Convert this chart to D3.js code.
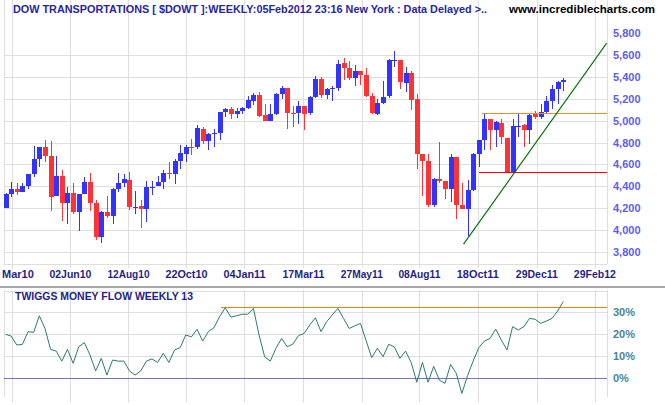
<!DOCTYPE html>
<html><head><meta charset="utf-8">
<script src="https://cdn.jsdelivr.net/npm/d3@7"></script>
<style>body{margin:0;background:#fff}svg{display:block}</style>
</head><body><svg id="c" width="665" height="405"></svg>
<script>
// ---- data (weekly candles, DOW Transportations) ----
const openP  = [4198,4326,4372,4348,4400,4509,4647,4756,4677,4311,4491,4247,4335,4165,4326,4436,4247,3936,4165,4128,
                4372,4427,4454,4205,4217,4192,4390,4400,4436,4518,4509,4628,4695,4756,4756,4921,4811,4875,4885,5080,
                5104,5058,5086,5113,5177,5232,5049,4997,5058,5241,5296,5068,5068,5132,5068,5214,5379,5232,5290,5296,
                5525,5479,5388,5452,5415,5223,5058,5159,5223,5546,5552,5342,5434,5196,4692,4631,4229,4464,4445,4375,
                4668,4229,4192,4363,4692,4820,5013,4915,4976,4839,4531,4949,4958,4915,5058,5031,5076,5177,5287,5351];
const highP  = [4335,4442,4427,4427,4509,4766,4756,4820,4811,4674,4546,4390,4427,4326,4482,4518,4271,4171,4308,4381,
                4518,4509,4528,4354,4271,4445,4445,4491,4546,4619,4647,4775,4775,4830,4958,4939,4885,4921,5077,5119,
                5122,5113,5128,5223,5250,5260,5150,5150,5250,5315,5296,5132,5177,5132,5223,5406,5397,5296,5315,5552,
                5571,5543,5507,5452,5479,5250,5196,5360,5562,5635,5552,5488,5452,5241,4692,4692,4473,4802,4445,4692,
                4668,4433,4454,4702,4820,5068,5013,4994,5013,4839,5013,5068,4967,5058,5086,5150,5229,5324,5360,5388];
const lowP   = [4198,4302,4320,4348,4372,4485,4573,4622,4174,4311,4082,4055,4146,3991,4326,4174,3909,3880,4110,4055,
                4348,4393,4183,4146,4018,4073,4320,4400,4372,4464,4418,4555,4619,4683,4738,4784,4729,4756,4823,5034,
                5016,5025,5058,5104,5141,5034,4997,4997,5049,5196,4921,4942,4967,4912,5049,5205,5205,5196,5177,5275,
                5369,5369,5315,5324,5214,5058,5049,5150,5205,5488,5287,5260,5095,4555,4311,4210,4210,4433,4287,4256,
                4098,4192,3945,4360,4580,4732,4732,4759,4787,4531,4531,4854,4759,4787,5013,5013,5068,5104,5150,5269];
const closeP = [4326,4372,4348,4400,4509,4647,4756,4677,4302,4491,4247,4335,4165,4326,4436,4247,3936,4165,4128,4372,
                4427,4464,4210,4210,4192,4390,4396,4436,4518,4509,4628,4701,4756,4747,4930,4811,4875,4885,5077,5104,
                5058,5086,5113,5186,5232,5043,4997,5058,5241,5296,5068,5064,5132,5058,5214,5379,5232,5287,5296,5516,
                5479,5388,5452,5415,5223,5068,5159,5214,5552,5552,5351,5434,5186,4692,4631,4229,4464,4445,4375,4668,
                4229,4192,4363,4692,4820,5013,4915,4985,4848,4531,4949,4955,4915,5055,5031,5076,5177,5287,5351,5369];
// Twiggs Money Flow (weekly, 13), percent
const tmf = [19.9,19.1,15.0,15.3,21.1,20.8,28.4,22.6,13.0,12.2,7.6,13.0,6.6,14.2,16.1,10.4,3.1,8.9,1.2,8.1,
             7.6,7.6,3.1,1.2,3.1,7.6,8.6,7.0,11.2,7.0,12.7,13.8,19.6,18.7,22.2,16.8,21.1,22.9,28.0,32.1,
             27.8,28.4,29.1,29.1,31.8,19.6,9.6,7.6,13.5,18.0,14.2,15.4,19.3,20.3,24.2,27.5,21.1,25.7,28.8,31.8,
             27.2,22.6,23.8,24.9,17.0,9.2,13.5,9.6,15.3,14.2,8.9,12.2,7.0,-2.1,7.0,-2.1,5.2,-1.1,-2.6,6.1,
             2.0,-7.2,0.9,7.6,13.8,16.8,18.0,22.3,17.3,12.7,23.4,21.9,23.4,27.2,26.8,24.9,26.0,27.2,30.6,34.9];
const priceTicks = [3800,4000,4200,4400,4600,4800,5000,5200,5400,5600,5800];
const priceGrid  = [3800,4000,4200,4400,4600,4800,5000,5200,5400,5600];
const pctTicks   = [0,10,20,30];
const pctGrid    = [10,20,30,40];
const dateLabels = ["Mar10","02Jun10","12Aug10","22Oct10","04Jan11","17Mar11","27May11","08Aug11","18Oct11","29Dec11","29Feb12"];
const dateIdx    = [1.24,11.53,21.83,32.12,42.41,52.88,63.24,73.46,83.82,94.3,104.6];
const supportLevel = 4535, resistLevel = 5070, resistStart = 84.6, supportStart = 84.1;
const trendFrom = [81.3,3870], trendTo = [106.7,5710];
const tmfPeakLevel = 32.3, tmfPeakStart = 38.3;
const titleText = "DOW TRANSPORTATIONS [ $DOWT ]:WEEKLY:05Feb2012 23:16 New York  : Data Delayed >..";
const siteText = "www.incrediblecharts.com";
const lowerTitle = "TWIGGS MONEY FLOW WEEKLY 13";

// ---- scales ----
const N = closeP.length;
const x  = d3.scaleLinear().domain([0, N-1]).range([5.5, 563.3]);
const yP = d3.scaleLinear().domain([3800, 5800]).range([251.8, 33.3]);
const yT = d3.scaleLinear().domain([0, 30]).range([377.7, 312.3]);
const L = 4, R = 607, PB = 264;
const px = v => Math.round(v) + 0.5;

const svg = d3.select("#c");
svg.append("rect").attr("width",665).attr("height",405).attr("fill","#fff");
const grid = "#dedede";

// price panel grid
const g1 = svg.append("g").attr("shape-rendering","crispEdges");
g1.selectAll(".hg").data(priceGrid).join("line")
  .attr("x1",L).attr("x2",R).attr("y1",d=>px(yP(d))).attr("y2",d=>px(yP(d)))
  .attr("stroke",grid);
g1.selectAll(".vg").data(dateIdx).join("line")
  .attr("x1",d=>px(x(d))).attr("x2",d=>px(x(d))).attr("y1",0).attr("y2",268)
  .attr("stroke",grid);
g1.append("line").attr("x1",L+0.5).attr("x2",L+0.5).attr("y1",0).attr("y2",PB).attr("stroke",grid);
g1.append("line").attr("x1",R+0.5).attr("x2",R+0.5).attr("y1",0).attr("y2",PB).attr("stroke",grid);
g1.append("line").attr("x1",L).attr("x2",R).attr("y1",PB+0.5).attr("y2",PB+0.5).attr("stroke",grid);

// header
svg.append("text").attr("x",13).attr("y",13).text(titleText)
  .attr("font-family","Liberation Sans, Arial, sans-serif").attr("font-weight","bold").attr("font-size","11.5px")
  .attr("fill","#2626a6").attr("textLength",474).attr("lengthAdjust","spacingAndGlyphs");
svg.append("text").attr("x",509).attr("y",13).text(siteText)
  .attr("font-family","Liberation Sans, Arial, sans-serif").attr("font-weight","bold").attr("font-size","11px")
  .attr("fill","#000").attr("textLength",146).attr("lengthAdjust","spacingAndGlyphs");

// price axis labels
svg.append("g").selectAll("text").data(priceTicks).join("text")
  .attr("x",613).attr("y",d=>yP(d)+4).text(d3.format(","))
  .attr("font-family","Liberation Sans, Arial, sans-serif").attr("font-weight","bold").attr("font-size","11px")
  .attr("fill","#5c5cf2");

// date labels
svg.append("g").selectAll("text").data(dateLabels).join("text")
  .attr("x",(d,i)=>x(dateIdx[i])).attr("y",278).attr("text-anchor","middle").text(d=>d)
  .attr("font-family","Liberation Sans, Arial, sans-serif").attr("font-weight","bold").attr("font-size","11px")
  .attr("fill","#1f1f8a").attr("textLength",42).attr("lengthAdjust","spacingAndGlyphs")
  .filter((d,i)=>i===0).attr("textLength",null).attr("x",2).attr("text-anchor","start");

// candles
const blue = "#3333ff", red = "#ff3333";
const cg = svg.append("g").attr("shape-rendering","crispEdges");
const idx = d3.range(N);
const col = i => closeP[i] >= openP[i] ? blue : red;
cg.selectAll(".w").data(idx).join("line")
  .attr("x1",i=>px(x(i))).attr("x2",i=>px(x(i)))
  .attr("y1",i=>yP(highP[i])).attr("y2",i=>yP(lowP[i])).attr("stroke",col).attr("stroke-width",1);
cg.selectAll(".b").data(idx).join("rect")
  .attr("x",i=>Math.round(x(i))-2).attr("width",5)
  .attr("y",i=>yP(Math.max(openP[i],closeP[i])))
  .attr("height",i=>Math.max(1, yP(Math.min(openP[i],closeP[i])) - yP(Math.max(openP[i],closeP[i]))))
  .attr("fill",col);

// support / resistance / trend
const lg = svg.append("g").attr("shape-rendering","crispEdges");
lg.append("line").attr("x1",x(supportStart)).attr("x2",R).attr("y1",px(yP(supportLevel))).attr("y2",px(yP(supportLevel)))
  .attr("stroke","#ff0000").attr("stroke-width",1);
lg.append("line").attr("x1",x(resistStart)).attr("x2",R).attr("y1",px(yP(resistLevel))).attr("y2",px(yP(resistLevel)))
  .attr("stroke","#f5891c").attr("stroke-width",1);
svg.append("line").attr("x1",x(trendFrom[0])).attr("y1",yP(trendFrom[1]))
  .attr("x2",x(trendTo[0])).attr("y2",yP(trendTo[1]))
  .attr("stroke","#007000").attr("stroke-width",1.1);

// separator
svg.append("line").attr("x1",0).attr("x2",665).attr("y1",287).attr("y2",287).attr("stroke","#a8a8a8").attr("stroke-width",2);

// lower panel grid
const g2 = svg.append("g").attr("shape-rendering","crispEdges");
g2.selectAll(".hg").data(pctGrid).join("line")
  .attr("x1",L).attr("x2",R).attr("y1",d=>px(yT(d))).attr("y2",d=>px(yT(d)))
  .attr("stroke",grid);
g2.selectAll(".vg").data(dateIdx).join("line")
  .attr("x1",d=>px(x(d))).attr("x2",d=>px(x(d))).attr("y1",290).attr("y2",402)
  .attr("stroke",grid);
g2.append("line").attr("x1",L+0.5).attr("x2",L+0.5).attr("y1",290).attr("y2",397).attr("stroke",grid);
g2.append("line").attr("x1",R+0.5).attr("x2",R+0.5).attr("y1",290).attr("y2",397).attr("stroke",grid);
g2.append("line").attr("x1",L).attr("x2",R).attr("y1",px(yT(0))).attr("y2",px(yT(0)))
  .attr("stroke","#7474c4");
g2.append("line").attr("x1",x(tmfPeakStart)).attr("x2",R).attr("y1",px(yT(tmfPeakLevel))).attr("y2",px(yT(tmfPeakLevel)))
  .attr("stroke","#ff8000").attr("stroke-width",1);

svg.append("text").attr("x",15).attr("y",300).text(lowerTitle)
  .attr("font-family","Liberation Sans, Arial, sans-serif").attr("font-weight","bold").attr("font-size","11px")
  .attr("fill","#22228a").attr("textLength",178).attr("lengthAdjust","spacingAndGlyphs");

svg.append("g").selectAll("text").data(pctTicks).join("text")
  .attr("x",613).attr("y",d=>yT(d)+4).text(d=>d+"%")
  .attr("font-family","Liberation Sans, Arial, sans-serif").attr("font-weight","bold").attr("font-size","11px")
  .attr("fill","#44849a");

svg.append("path").datum(tmf)
  .attr("d", d3.line().x((d,i)=>x(i)).y(d=>yT(d)))
  .attr("fill","none").attr("stroke","#2e7a72").attr("stroke-width",1);
</script></body></html>
